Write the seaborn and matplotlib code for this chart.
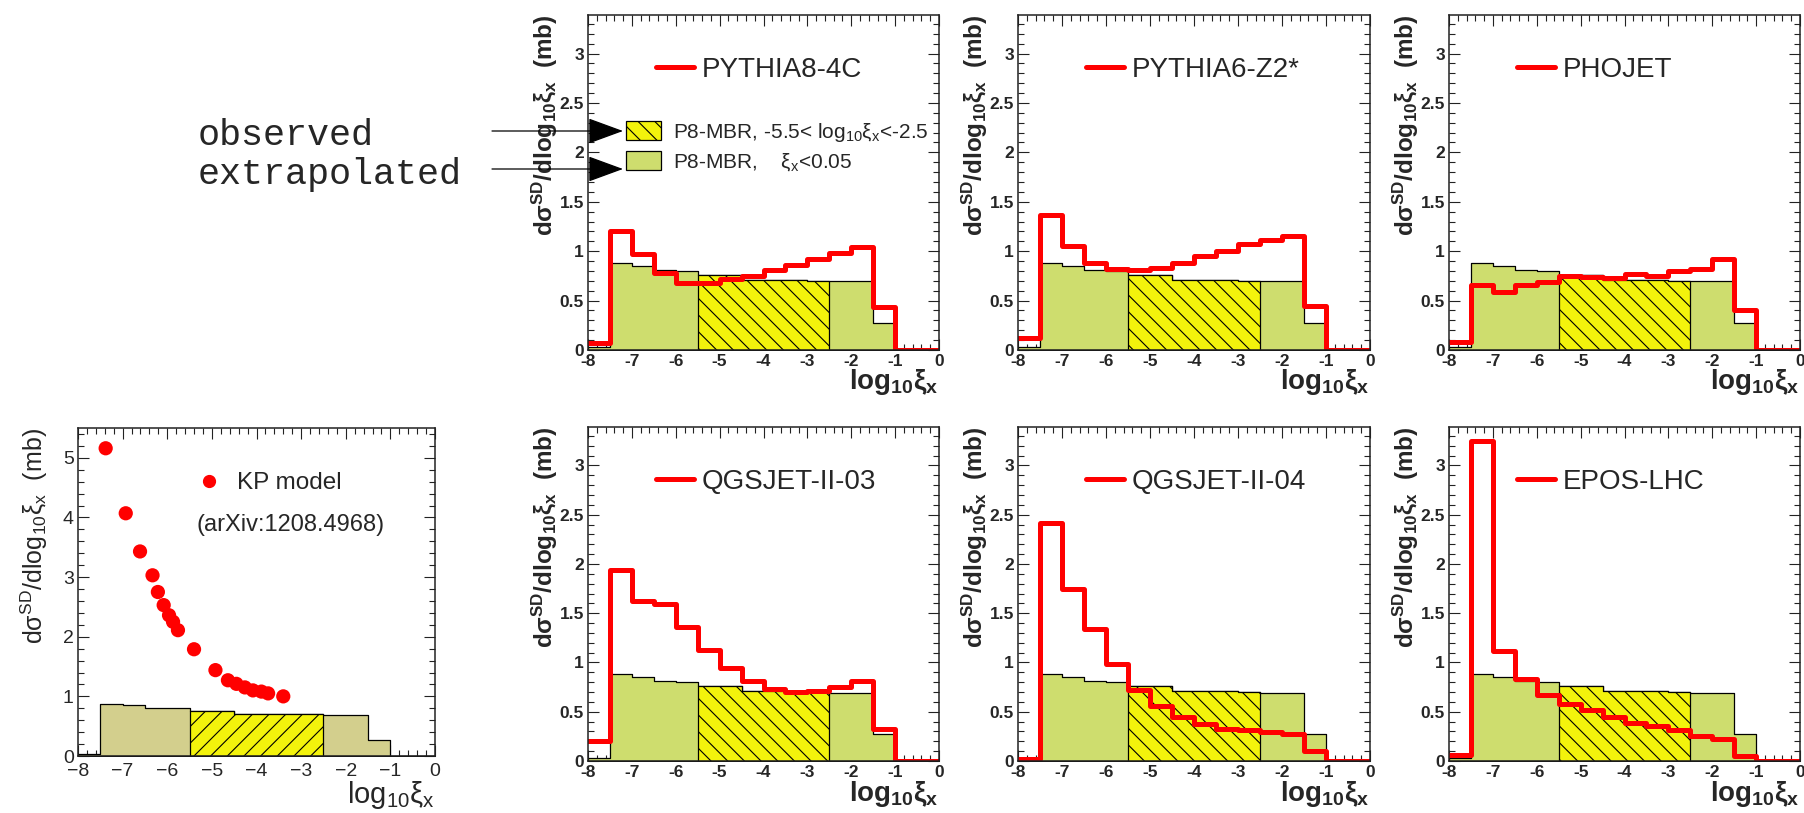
import numpy as np
import pandas as pd
import matplotlib.pyplot as plt
import seaborn as sns
from matplotlib.lines import Line2D
from matplotlib.patches import Patch
from matplotlib.ticker import MultipleLocator

# ---- data: dsigma/dlog10(xi_x) in 0.5-wide bins from -8 to 0 ----
bin_edges = list(np.arange(-8.0, 0.01, 0.5))
bin_centers = [e + 0.25 for e in bin_edges[:-1]]

mbr = [0.03, 0.88, 0.85, 0.81, 0.80, 0.76, 0.76, 0.71,
       0.71, 0.71, 0.70, 0.695, 0.695, 0.27, 0.0, 0.0]
hatch_range = (-5.5, -2.5)

model_names = ['PYTHIA8-4C', 'PYTHIA6-Z2*', 'PHOJET',
               'QGSJET-II-03', 'QGSJET-II-04', 'EPOS-LHC']
pythia8_4c = [0.07, 1.20, 0.97, 0.78, 0.68, 0.68, 0.72, 0.75,
              0.81, 0.86, 0.92, 0.98, 1.04, 0.44, 0.0, 0.0]
pythia6_z2 = [0.12, 1.37, 1.05, 0.88, 0.82, 0.81, 0.83, 0.88,
              0.95, 1.00, 1.07, 1.11, 1.15, 0.45, 0.0, 0.0]
phojet = [0.08, 0.66, 0.59, 0.66, 0.69, 0.75, 0.74, 0.73,
          0.77, 0.75, 0.795, 0.82, 0.92, 0.40, 0.0, 0.0]
qgsjet_03 = [0.20, 1.94, 1.62, 1.59, 1.36, 1.13, 0.94, 0.81,
             0.73, 0.70, 0.71, 0.75, 0.81, 0.32, 0.0, 0.0]
qgsjet_04 = [0.02, 2.42, 1.75, 1.34, 0.98, 0.72, 0.555, 0.445,
             0.38, 0.325, 0.31, 0.29, 0.27, 0.10, 0.0, 0.0]
epos_lhc = [0.06, 3.25, 1.12, 0.83, 0.67, 0.58, 0.52, 0.45,
            0.39, 0.36, 0.315, 0.255, 0.22, 0.05, 0.0, 0.0]
model_values = [pythia8_4c, pythia6_z2, phojet, qgsjet_03, qgsjet_04, epos_lhc]

# KP model points (arXiv:1208.4968)
kp_x = [-7.38, -6.93, -6.61, -6.33, -6.21, -6.08, -5.96, -5.87, -5.76,
        -5.40, -4.92, -4.64, -4.45, -4.26, -4.08, -3.89, -3.74, -3.40]
kp_y = [5.16, 4.07, 3.43, 3.03, 2.75, 2.53, 2.36, 2.25, 2.11,
        1.79, 1.44, 1.27, 1.21, 1.15, 1.10, 1.08, 1.05, 1.00]

x_ticks = [-8, -7, -6, -5, -4, -3, -2, -1, 0]
x_labels_hyphen = ['-8', '-7', '-6', '-5', '-4', '-3', '-2', '-1', '0']
x_labels_minus = ['\u22128', '\u22127', '\u22126', '\u22125', '\u22124',
                  '\u22123', '\u22122', '\u22121', '0']
y_ticks = [0, 0.5, 1, 1.5, 2, 2.5, 3]
y_labels = ['0', '0.5', '1', '1.5', '2', '2.5', '3']
kp_y_ticks = [0, 1, 2, 3, 4, 5]

GREEN = '#cedd6e'
KHAKI = '#d3cf8d'
YELLOW = '#f3f30c'

# ---- style ----
sns.set_style('ticks')
plt.rcParams['font.family'] = ['Liberation Sans', 'DejaVu Sans']
plt.rcParams['mathtext.fontset'] = 'custom'
plt.rcParams['mathtext.rm'] = 'Liberation Sans'
plt.rcParams['mathtext.it'] = 'Liberation Sans:italic'
plt.rcParams['mathtext.bf'] = 'Liberation Sans:bold'
plt.rcParams['hatch.linewidth'] = 0.8

W, H = 1804, 813
fig = plt.figure(figsize=(W / 100, H / 100), dpi=100)


def px_rect(left, top, right, bottom):
    return [left / W, 1 - bottom / H, (right - left) / W, (bottom - top) / H]


def mbr_hist(ax, fill, hatch_fill, hatch):
    df = pd.DataFrame({'x': bin_centers, 'w': mbr})
    sns.histplot(data=df, x='x', weights='w', bins=bin_edges, element='step',
                 fill=True, facecolor=fill, edgecolor='black', linewidth=0.9,
                 alpha=1, ax=ax)
    sub = df[(df.x > hatch_range[0]) & (df.x < hatch_range[1])]
    sub_edges = [e for e in bin_edges if hatch_range[0] <= e <= hatch_range[1]]
    sns.histplot(data=sub, x='x', weights='w', bins=sub_edges, element='step',
                 fill=True, facecolor=hatch_fill, edgecolor='black', linewidth=0.9,
                 alpha=1, hatch=hatch, ax=ax)


def style_axes(ax, bold=True, kp=False):
    ax.set_xlim(-8, 0)
    weight = 'bold' if bold else 'normal'
    if kp:
        ax.set_ylim(0, 5.5)
        ax.set_xticks(x_ticks, x_labels_minus, fontsize=14)
        ax.set_yticks(kp_y_ticks, [str(t) for t in kp_y_ticks], fontsize=14)
        ax.yaxis.set_minor_locator(MultipleLocator(0.2))
    else:
        ax.set_ylim(0, 3.39)
        ax.set_xticks(x_ticks, x_labels_hyphen, fontsize=12.5, fontweight=weight)
        ax.set_yticks(y_ticks, y_labels, fontsize=12.5, fontweight=weight)
        ax.yaxis.set_minor_locator(MultipleLocator(0.1))
    ax.xaxis.set_minor_locator(MultipleLocator(0.2))
    ax.tick_params(which='both', direction='in', top=True, right=True,
                   width=0.8, color='#222222')
    ax.tick_params(which='major', length=8, pad=3)
    ax.tick_params(which='minor', length=4)
    if kp:
        ax.tick_params(axis='x', which='major', pad=5)
    for s in ax.spines.values():
        s.set_linewidth(1.1)
        s.set_color('#222222')
    if bold:
        ax.set_ylabel('dσ$^{\\mathbf{SD}}$/dlog$_{\\mathbf{10}}$ξ$_{\\mathbf{x}}$  (mb)',
                      loc='top', fontsize=17.5, fontweight='bold')
        ax.set_xlabel('log$_{\\mathbf{10}}$ξ$_{\\mathbf{x}}$', loc='right',
                      fontsize=20, fontweight='bold')
    else:
        ax.set_ylabel('dσ$^{\\mathrm{SD}}$/dlog$_{\\mathrm{10}}$ξ$_{\\mathrm{x}}$  (mb)',
                      loc='top', fontsize=18)
        ax.set_xlabel('log$_{\\mathrm{10}}$ξ$_{\\mathrm{x}}$', loc='right', fontsize=21)


# ---- six generator panels ----
lefts = [(588, 939), (1018, 1370), (1449, 1800)]
rows = [(15, 350), (427, 761)]
for i, (name, vals) in enumerate(zip(model_names, model_values)):
    (l, r), (t, b) = lefts[i % 3], rows[i // 3]
    ax = fig.add_axes(px_rect(l, t, r, b))
    mbr_hist(ax, GREEN, YELLOW, '\\\\')
    sns.histplot(x=bin_centers, weights=vals, bins=bin_edges, element='step',
                 fill=False, color='#ff0000', linewidth=3.6, ax=ax)
    style_axes(ax, bold=True)
    ax.yaxis.set_label_coords(-0.08, 1.0)
    ax.xaxis.set_label_coords(1.0, -0.05 if i < 3 else -0.055)

    leg = ax.legend(handles=[Line2D([], [], color='#ff0000', lw=3.6)], labels=[name],
                    loc='center left', bbox_to_anchor=(0.193, 0.836), frameon=False,
                    fontsize=20, handlelength=1.37, handletextpad=0.29,
                    borderpad=0, borderaxespad=0)
    if i == 0:
        ax.add_artist(leg)
        ax.legend(handles=[Patch(facecolor=YELLOW, edgecolor='black', hatch='\\\\', lw=0.9),
                           Patch(facecolor=GREEN, edgecolor='black', lw=0.9)],
                  labels=['P8-MBR, -5.5< log$_{10}$ξ$_{\\mathrm{x}}$<-2.5',
                          'P8-MBR,    ξ$_{\\mathrm{x}}$<0.05'],
                  loc='center left', bbox_to_anchor=(0.108, 0.606), frameon=False,
                  fontsize=15, handlelength=1.68, handleheight=1.0,
                  handletextpad=0.58, labelspacing=0.35,
                  borderpad=0, borderaxespad=0)
        # annotation arrows pointing at the legend boxes
        for y_px, word, base in [(131, 'observed', 145), (169, 'extrapolated', 184)]:
            ax.annotate('', xy=(623, H - y_px), xytext=(492, H - y_px),
                        xycoords='figure pixels', textcoords='figure pixels',
                        arrowprops=dict(arrowstyle='-|>,head_length=1.5,head_width=0.55',
                                        color='black', lw=0.9, shrinkA=0, shrinkB=0,
                                        mutation_scale=15),
                        annotation_clip=False)
            fig.text(198 / W, 1 - base / H, word, family='Liberation Mono',
                     fontsize=26.5, va='baseline', ha='left')

# ---- KP model panel ----
ax = fig.add_axes(px_rect(78, 428, 435, 756))
mbr_hist(ax, KHAKI, YELLOW, '//')
sns.scatterplot(x=kp_x, y=kp_y, color='#ff0000', s=105, edgecolor='none',
                linewidth=0, ax=ax)
style_axes(ax, bold=False, kp=True)
ax.yaxis.set_label_coords(-0.078, 1.0)
ax.xaxis.set_label_coords(1.0, -0.07)
ax.legend(handles=[Line2D([], [], marker='o', color='#ff0000', linestyle='none',
                          markersize=8.5)],
          labels=['KP model'], loc='center left', bbox_to_anchor=(0.333, 0.832),
          frameon=False, fontsize=17.5, handlelength=1.0, handletextpad=0.65,
          borderpad=0, borderaxespad=0)
ax.text(0.333, 0.704, '(arXiv:1208.4968)', transform=ax.transAxes,
        fontsize=17, va='center', ha='left')

fig.savefig('out.png', dpi=100)
